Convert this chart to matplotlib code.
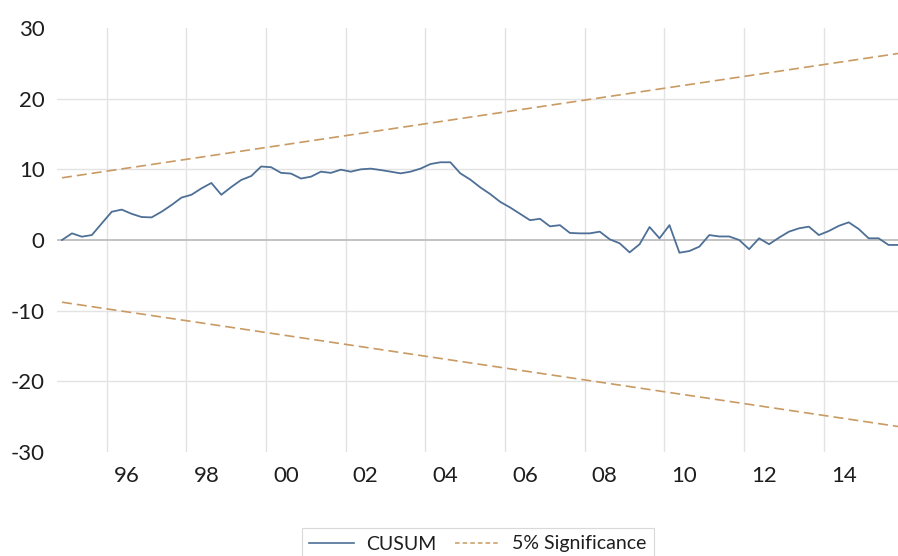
import pandas as pd
import matplotlib
matplotlib.use('Agg')
import matplotlib.pyplot as plt
from matplotlib.lines import Line2D

# 四半期 1994Q4 - 2015Q4
quarters = pd.period_range('1994Q4', '2015Q4', freq='Q')

cusum = [0.0, 0.94, 0.47, 0.7, 2.36, 4.0, 4.3, 3.7, 3.25, 3.2,
         4.0, 4.95, 6.0, 6.4, 7.3, 8.07, 6.4, 7.5, 8.5, 9.05,
         10.4, 10.3, 9.5, 9.4, 8.7, 8.96, 9.67, 9.5, 9.95, 9.67,
         10.0, 10.1, 9.9, 9.67, 9.43, 9.67, 10.1, 10.75, 11.0, 11.0,
         9.43, 8.55, 7.45, 6.5, 5.4, 4.6, 3.7, 2.8, 3.0, 1.93,
         2.1, 1.0, 0.94, 0.94, 1.18, 0.1, -0.47, -1.75, -0.6, 1.84,
         0.24, 2.1, -1.8, -1.56, -0.94, 0.7, 0.5, 0.5, 0.0, -1.3,
         0.24, -0.6, 0.33, 1.18, 1.65, 1.89, 0.7, 1.27, 2.0, 2.5,
         1.56, 0.24, 0.24, -0.7, -0.7]

# 5%有意水準の境界 (始点と終点)
bound_quarters = ['1994Q4', '2015Q4']
upper = [8.8, 26.4]
lower = [-8.8, -26.4]

yticks = [-30, -20, -10, 0, 10, 20, 30]
xlabel_years = list(range(1996, 2015, 2))

c_cusum = '#4e6f96'
c_sig = '#c99a62'


def to_x(p):
    p = pd.Period(p, freq='Q')
    return p.year + (p.quarter - 1) / 4 + 0.125


x = [to_x(q) for q in quarters]
xb = [to_x(q) for q in bound_quarters]

plt.rcParams['font.family'] = ['Lato', 'DejaVu Sans']

fig = plt.figure(figsize=(8.98, 5.56), dpi=100)
ax = fig.add_axes([57 / 898, 104 / 556, 846.5 / 898, 424 / 556])

for yr in xlabel_years:
    ax.axvline(yr, color='#e3e3e3', lw=1.0, zorder=0)
for v in [-20, -10, 10, 20]:
    ax.axhline(v, color='#e3e3e3', lw=1.0, zorder=0)
ax.axhline(0, color='#bdbdbd', lw=1.3, zorder=1)

ax.plot(x, cusum, color=c_cusum, lw=1.3, zorder=3)
ax.plot(xb, upper, color=c_sig, lw=1.2, dashes=(6, 3), zorder=2)
ax.plot(xb, lower, color=c_sig, lw=1.2, dashes=(6, 3), zorder=2)

ax.set_xlim(1994.75, 2016.0)
ax.set_ylim(-30, 30)
ax.set_yticks(yticks)
ax.set_yticklabels([str(v) for v in yticks])
ax.set_xticks([y + 0.5 for y in xlabel_years])
ax.set_xticklabels(['%02d' % (y % 100) for y in xlabel_years])
ax.tick_params(axis='both', length=0, labelsize=16, colors='#1e1e1e')
ax.tick_params(axis='y', pad=9)
ax.tick_params(axis='x', pad=10)
for s in ax.spines.values():
    s.set_visible(False)

handles = [Line2D([], [], color=c_cusum, lw=1.2),
           Line2D([], [], color=c_sig, lw=1.1, dashes=(3, 2))]
leg = fig.legend(handles, ['CUSUM', '5% Significance'],
                 loc='upper center', bbox_to_anchor=(0.532, 1 - 518 / 556),
                 ncol=2, fontsize=14, frameon=True, fancybox=False,
                 edgecolor='#d0d0d0', handlelength=2.3, handletextpad=0.6,
                 columnspacing=1.0, borderpad=0.4)
leg.get_frame().set_linewidth(0.8)
for t in leg.get_texts():
    t.set_color('#1e1e1e')

fig.savefig('out.png', dpi=100)
